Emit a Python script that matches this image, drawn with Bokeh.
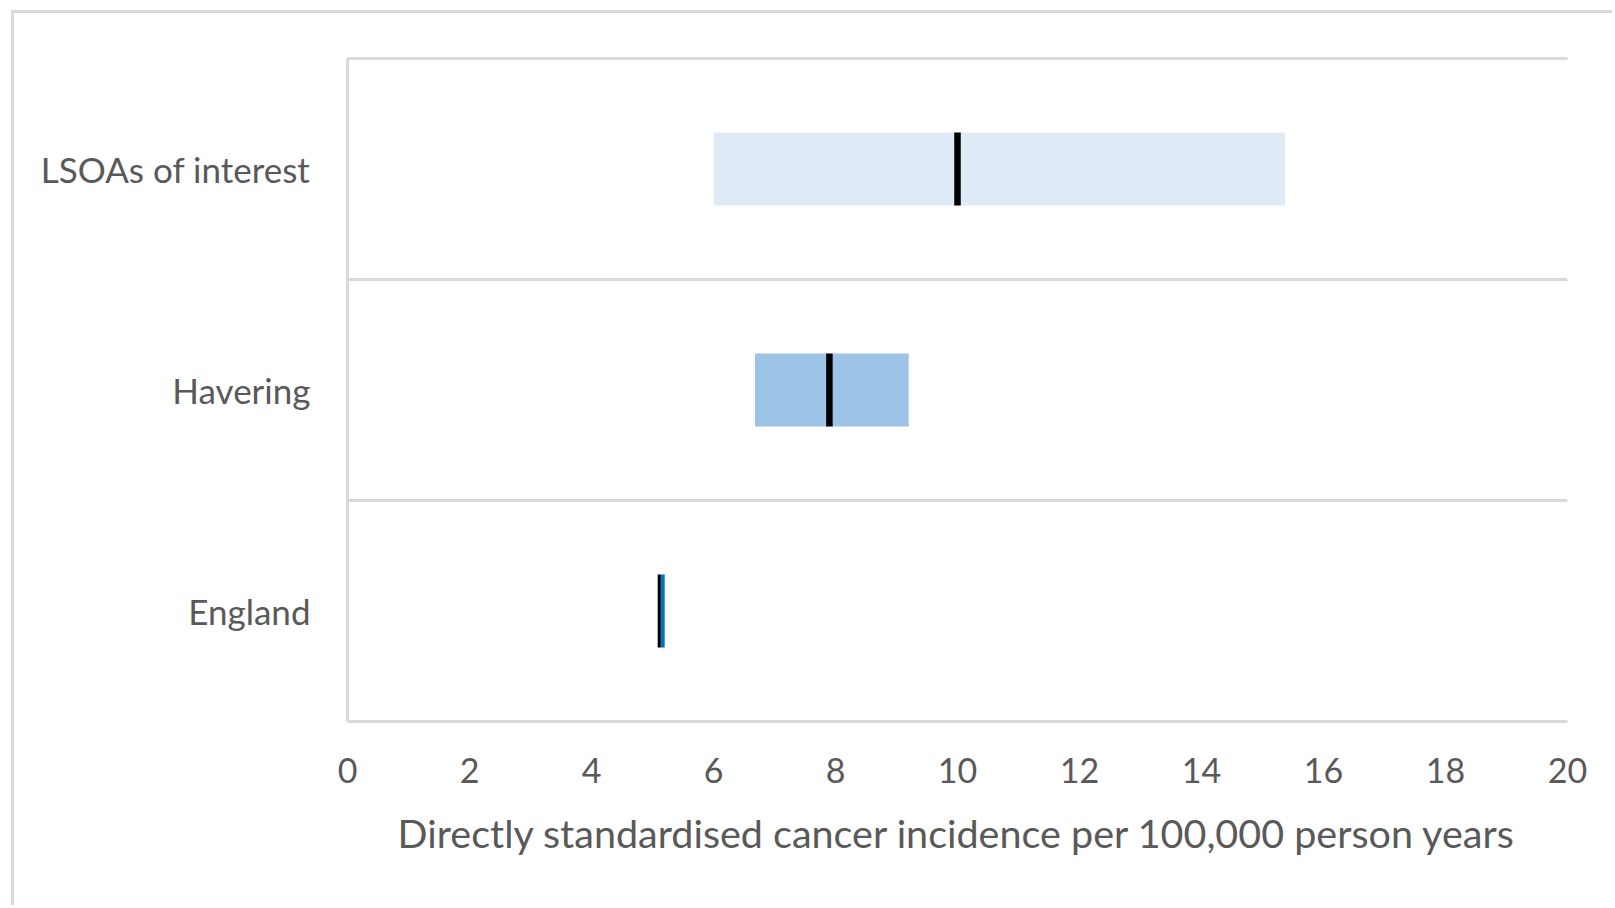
from bokeh.plotting import figure
from bokeh.models import LinearAxis, FixedTicker, Range1d, ColumnDataSource
from bokeh.embed import file_html
from bokeh.resources import INLINE

# Data
categories = ["England", "Havering", "LSOAs of interest"]
lower = [5.13, 6.68, 6.0]
upper = [5.20, 9.20, 15.37]
median = [5.11, 7.90, 10.0]
box_colors = ["#0070c0", "#9dc3e6", "#deebf7"]
x_ticks = [0, 2, 4, 6, 8, 10, 12, 14, 16, 18, 20]
x_title = "Directly standardised cancer incidence per 100,000 person years"

FONT = "Lato"
TXT = "#595959"
GRID = "#d9d9d9"

centers = [i + 0.5 for i in range(len(categories))]
bar_h = 0.33

src = ColumnDataSource(dict(y=centers, left=lower, right=upper, color=box_colors,
                            med=median, lw=[3, 6.5, 6.5],
                            y0=[c - bar_h / 2 for c in centers],
                            y1=[c + bar_h / 2 for c in centers]))

p = figure(width=1601, height=895, output_backend="svg", toolbar_location=None,
           x_range=Range1d(0, 20), y_range=Range1d(0, len(categories)),
           min_border_left=333, min_border_right=48, min_border_top=45,
           min_border_bottom=187, outline_line_color=None)
p.margin = (10, 0, 0, 11)
p.styles = {"border-top": "3px solid #d9d9d9", "border-left": "3px solid #d9d9d9"}

p.hbar(y="y", left="left", right="right", height=bar_h, fill_color="color",
       line_color=None, source=src)
p.segment(x0="med", x1="med", y0="y0", y1="y1", line_color="black",
          line_width="lw", source=src)

# axes
p.xaxis.ticker = FixedTicker(ticks=x_ticks)
p.xaxis.axis_label = x_title
p.xaxis.axis_line_color = GRID
p.xaxis.axis_line_width = 3
p.xaxis.major_tick_line_color = None
p.xaxis.minor_tick_line_color = None
p.xaxis.major_label_standoff = 30
p.xaxis.major_label_text_font = FONT
p.xaxis.major_label_text_font_size = "34px"
p.xaxis.major_label_text_color = TXT
p.xaxis.axis_label_text_font = FONT
p.xaxis.axis_label_text_font_size = "39.5px"
p.xaxis.axis_label_text_font_style = "normal"
p.xaxis.axis_label_text_color = TXT
p.xaxis.axis_label_standoff = 23

p.yaxis.ticker = FixedTicker(ticks=centers)
p.yaxis.major_label_overrides = {c: n for c, n in zip(centers, categories)}
p.yaxis.axis_line_color = GRID
p.yaxis.axis_line_width = 3
p.yaxis.major_tick_line_color = None
p.yaxis.minor_tick_line_color = None
p.yaxis.major_label_standoff = 31
p.yaxis.major_label_text_font = FONT
p.yaxis.major_label_text_font_size = "35px"
p.yaxis.major_label_text_color = TXT

top = LinearAxis(axis_line_color=GRID, axis_line_width=3, major_tick_line_color=None,
                 minor_tick_line_color=None, major_label_text_font_size="0px",
                 major_label_text_alpha=0)
p.add_layout(top, "above")

p.xgrid.grid_line_color = None
p.ygrid.ticker = FixedTicker(ticks=[1, 2])
p.ygrid.grid_line_color = GRID
p.ygrid.grid_line_width = 3

open("out.html", "w").write(file_html(p, INLINE))
